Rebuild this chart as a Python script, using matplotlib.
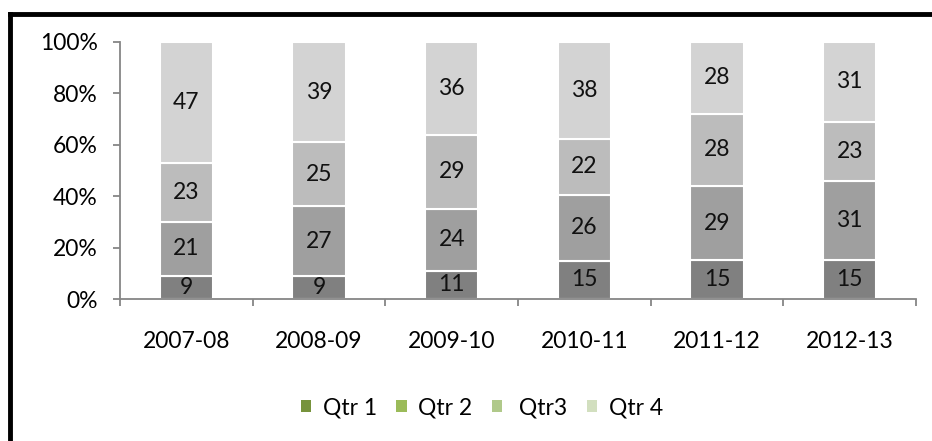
import matplotlib
matplotlib.use('Agg')
import matplotlib.pyplot as plt
from matplotlib.lines import Line2D
from matplotlib.patches import Patch
import numpy as np

years = ['2007-08', '2008-09', '2009-10', '2010-11', '2011-12', '2012-13']
qtr1 = [9, 9, 11, 15, 15, 15]
qtr2 = [21, 27, 24, 26, 29, 31]
qtr3 = [23, 25, 29, 22, 28, 23]
qtr4 = [47, 39, 36, 38, 28, 31]
series_names = ['Qtr 1', 'Qtr 2', ' Qtr3', 'Qtr 4']

bar_colors = ['#808080', '#9f9f9f', '#bcbcbc', '#d3d3d3']
legend_colors = ['#77933c', '#9bbb59', '#b0c98a', '#d2dfbf']

plt.rcParams['font.family'] = ['Lato', 'DejaVu Sans']
fs = 16.5

fig = plt.figure(figsize=(9.32, 4.41), dpi=100)
ax = fig.add_axes([120/932, 1-299/441, (916-120)/932, (299-42)/441])

data = np.array([qtr1, qtr2, qtr3, qtr4], dtype=float)
totals = data.sum(axis=0)
x = np.arange(len(years))
bottom = np.zeros(len(years))
for vals, col in zip(data, bar_colors):
    frac = vals / totals
    ax.bar(x, frac, 0.4, bottom=bottom, color=col, edgecolor='white', linewidth=1.5)
    for xi, b, f, v in zip(x, bottom, frac, vals):
        ax.text(xi, b + f/2, '%d' % v, ha='center', va='center', fontsize=fs, color='#111111')
    bottom += frac

ax.set_xlim(-0.5, len(years) - 0.5)
ax.set_ylim(0, 1)
ax.set_yticks(np.arange(0, 1.01, 0.2))
ax.set_yticklabels(['%d%%' % round(v*100) for v in np.arange(0, 1.01, 0.2)])
ax.set_xticks(x)
ax.set_xticklabels(years)
ax.set_xticks(np.arange(-0.5, len(years)), minor=True)

for s in ['top', 'right']:
    ax.spines[s].set_visible(False)
for s in ['left', 'bottom']:
    ax.spines[s].set_color('#868686')
    ax.spines[s].set_linewidth(1.3)

ax.tick_params(axis='y', length=5, width=1.3, color='#868686', pad=11, labelsize=fs)
ax.tick_params(axis='x', which='major', length=0, pad=23, labelsize=fs)
ax.tick_params(axis='x', which='minor', length=5, width=1.3, color='#868686')

handles = [Patch(facecolor=c, edgecolor='none') for c in legend_colors]
fig.legend(handles, series_names, loc='center', bbox_to_anchor=(0.517, 1-408/441),
           ncol=4, frameon=False, fontsize=fs, handlelength=0.45, handleheight=0.45,
           handletextpad=0.5, columnspacing=0.85)

# black frame on left and top
fig.add_artist(Line2D([10/932, 10/932], [0, 1-14/441], color='black', linewidth=3.5,
                      solid_capstyle='projecting', transform=fig.transFigure))
fig.add_artist(Line2D([10/932, 1], [1-14/441, 1-14/441], color='black', linewidth=3.5,
                      solid_capstyle='projecting', transform=fig.transFigure))

fig.savefig('out.png', dpi=100)
